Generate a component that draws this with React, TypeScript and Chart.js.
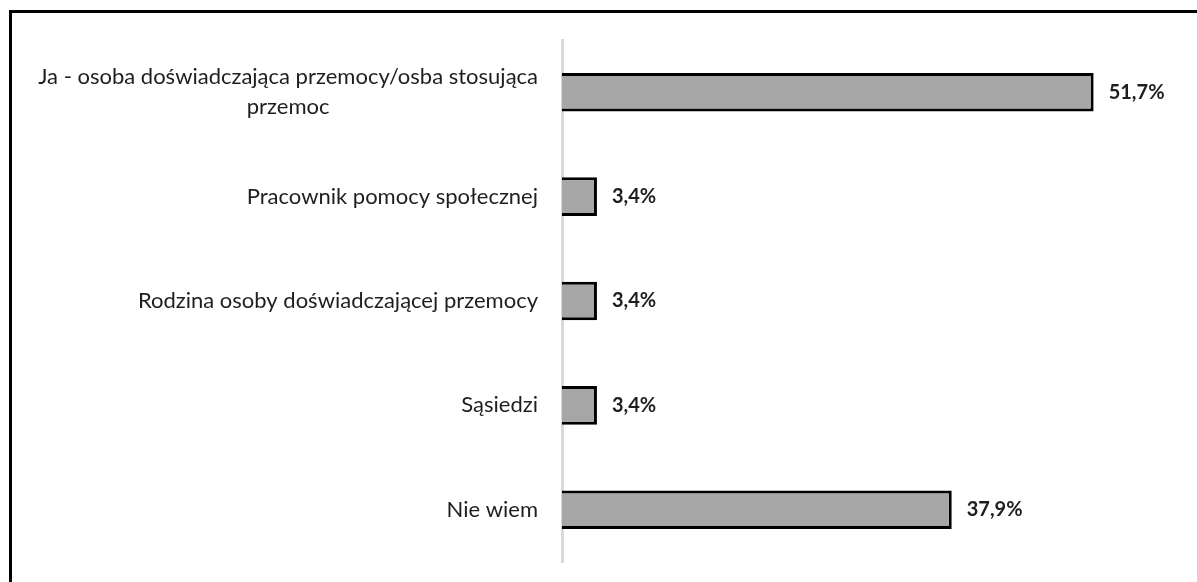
import React, { useEffect, useRef } from "react";
import { Chart, registerables } from "chart.js";

Chart.register(...registerables);

const categories: (string | string[])[] = [
  ["Ja - osoba doświadczająca przemocy/osba stosująca", "przemoc"],
  "Pracownik pomocy społecznej",
  "Rodzina osoby doświadczającej przemocy",
  "Sąsiedzi",
  "Nie wiem",
];
const values: number[] = [51.7, 3.4, 3.4, 3.4, 37.9];
const axisMax = 60;

const LABEL_FONT = "22px Lato";
const VALUE_FONT = "bold 20px Lato";
const TEXT_COLOR = "#1e1e1e";

const decorPlugin = {
  id: "decor",
  beforeDraw(chart: any) {
    const ctx = chart.ctx;
    ctx.save();
    ctx.fillStyle = "#ffffff";
    ctx.fillRect(0, 0, chart.width, chart.height);
    ctx.fillStyle = "#000000";
    ctx.fillRect(9, 10, 3, chart.height - 10);
    ctx.fillRect(9, 10, chart.width - 9, 3);
    ctx.restore();
  },
  afterDraw(chart: any) {
    const ctx = chart.ctx;
    const yScale = chart.scales.y;
    const xScale = chart.scales.x;
    ctx.save();
    ctx.fillStyle = TEXT_COLOR;
    ctx.textBaseline = "middle";
    // category labels
    ctx.font = LABEL_FONT;
    ctx.textAlign = "center";
    const rightEdge = yScale.right - 24;
    categories.forEach((lab, i) => {
      const lines = Array.isArray(lab) ? lab : [lab];
      const maxW = Math.max(...lines.map((l) => ctx.measureText(l).width));
      const cx = rightEdge - maxW / 2;
      const yc = yScale.getPixelForValue(i);
      const lh = 30;
      const y0 = yc - ((lines.length - 1) * lh) / 2;
      lines.forEach((l, k) => ctx.fillText(l, cx, y0 + k * lh));
    });
    // value labels
    ctx.font = VALUE_FONT;
    ctx.textAlign = "left";
    values.forEach((v, i) => {
      const x = xScale.getPixelForValue(v) + 15;
      const y = yScale.getPixelForValue(i);
      ctx.fillText(v.toFixed(1).replace(".", ",") + "%", x, y);
    });
    ctx.restore();
  },
};

export default function App() {
  const ref = useRef<HTMLCanvasElement>(null);
  useEffect(() => {
    if (!ref.current) return;
    const chart = new Chart(ref.current, {
      type: "bar",
      data: {
        labels: categories.map((c) => (Array.isArray(c) ? c.join(" ") : c)),
        datasets: [
          {
            data: values,
            backgroundColor: "#a6a6a6",
            borderColor: "#000000",
            borderWidth: 3,
            barPercentage: 0.37,
            categoryPercentage: 1,
          },
        ],
      },
      options: {
        indexAxis: "y",
        animation: false,
        responsive: false,
        events: [],
        layout: { padding: { left: 0, right: 18, top: 40, bottom: 20 } },
        plugins: {
          legend: { display: false },
          tooltip: { enabled: false },
        },
        scales: {
          x: { display: false, min: 0, max: axisMax },
          y: {
            ticks: { display: false },
            grid: { display: false, drawTicks: false },
            border: { display: true, color: "#d9d9d9", width: 3 },
            afterFit: (scale: any) => {
              scale.width = 562;
            },
          },
        },
      },
      plugins: [decorPlugin],
    });
    return () => chart.destroy();
  }, []);
  return (
    <div style={{ position: "fixed", left: 0, top: 0, width: 1197, height: 582, background: "#fff" }}>
      <canvas ref={ref} width={1197} height={582} style={{ display: "block" }} />
    </div>
  );
}
